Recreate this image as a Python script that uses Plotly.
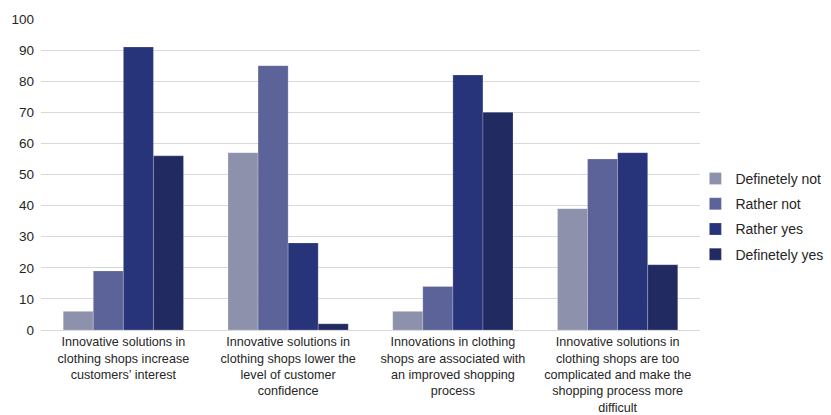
import plotly.graph_objects as go

categories = [
    "Innovative solutions in<br>clothing shops increase<br>customers’ interest",
    "Innovative solutions in<br>clothing shops lower the<br>level of customer<br>confidence",
    "Innovations in clothing<br>shops are associated with<br>an improved shopping<br>process",
    "Innovative solutions in<br>clothing shops are too<br>complicated and make the<br>shopping process more<br>difficult",
]
series_names = ["Definetely not", "Rather not", "Rather yes", "Definetely yes"]
definetely_not = [6, 57, 6, 39]
rather_not = [19, 85, 14, 55]
rather_yes = [91, 28, 82, 57]
definetely_yes = [56, 2, 70, 21]
colors = ["#8d91ab", "#5b6399", "#283479", "#222a62"]

fig = go.Figure()
for name, vals, col in zip(series_names, [definetely_not, rather_not, rather_yes, definetely_yes], colors):
    fig.add_trace(go.Bar(x=categories, y=vals, name=name, legendgroup=name,
                         marker=dict(color=col, line=dict(color="rgba(255,255,255,0.35)", width=0.6))))

fig.update_layout(
    width=831, height=415,
    margin=dict(l=41, r=131, t=19, b=85, autoexpand=False),
    plot_bgcolor="white", paper_bgcolor="white",
    barmode="group", bargap=0.27, bargroupgap=0,
    font=dict(family="Liberation Sans, Arial, sans-serif", color="#333333", size=12),
    xaxis=dict(showgrid=False, showline=True, linecolor="#d9d9d9", linewidth=1,
               tickfont=dict(size=12.6, color="#262626"), ticks="", automargin=False,
               ticklabelstandoff=0),
    yaxis=dict(range=[0, 100], dtick=10, showgrid=True, gridcolor="#d9d9d9", gridwidth=1,
               zeroline=False, showline=False, tickfont=dict(size=13.5, color="#262626"),
               ticklabelstandoff=6, automargin=False),
    legend=dict(x=0.993, xanchor="left", y=0.365, yanchor="middle",
                font=dict(size=14, color="#262626"), itemwidth=30, tracegroupgap=4,
                bgcolor="rgba(0,0,0,0)"),
)
fig.write_html("out.html")
